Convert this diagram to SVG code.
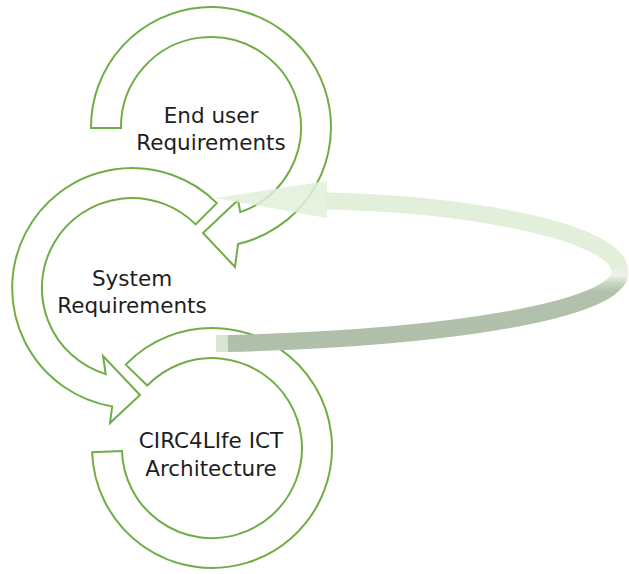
<svg xmlns="http://www.w3.org/2000/svg" width="629" height="574" viewBox="0 0 629 574">
  <style>
    .ring { fill: #ffffff; stroke: #70ad47; stroke-width: 2; stroke-linejoin: miter; }
    .label { font-family: "DejaVu Sans", "Liberation Sans", sans-serif; font-size: 21.5px; fill: #1e1e1e; text-anchor: middle; }
  </style>
  <defs>
    <linearGradient id="loopShade" gradientUnits="userSpaceOnUse" x1="0" y1="180" x2="0" y2="350">
      <stop offset="0" stop-color="#e2efda"/>
      <stop offset="0.5" stop-color="#e2efda"/>
      <stop offset="0.56" stop-color="#ecf4e8"/>
      <stop offset="0.61" stop-color="#c6d3c0"/>
      <stop offset="0.66" stop-color="#b2c1ac"/>
      <stop offset="1" stop-color="#b0bfaa"/>
    </linearGradient>
  </defs>

  <!-- Step 1: clockwise ring arrow -->
  <g id="end-user-requirements">
    <path class="ring" d="M 91,128 A 120 120 0 1 1 238,244 L 235,267 L 203,233 L 238,200 L 240.3,212.1 A 90 90 0 1 0 121,128 Z"/>
    <text class="label" x="211" y="123">End user</text>
    <text class="label" x="211" y="150">Requirements</text>
  </g>

  <!-- Step 2: counter-clockwise ring arrow -->
  <g id="system-requirements">
    <path class="ring" d="M 216.9,203.1 A 120 120 0 1 0 112.2,406.4 L 110,423 L 140,395 L 103,356 L 105.7,374.1 A 90 90 0 1 1 195.6,224.4 Z"/>
    <text class="label" x="132" y="286">System</text>
    <text class="label" x="132" y="313">Requirements</text>
  </g>

  <!-- Step 3: open ring without arrowhead -->
  <g id="ict-architecture">
    <path class="ring" d="M 92.1,452.2 A 120 120 0 1 0 125.7,364.6 L 147.3,385.5 A 90 90 0 1 1 122,451.1 Z"/>
    <text class="label" x="211" y="448">CIRC4LIfe ICT</text>
    <text class="label" x="211" y="476">Architecture</text>
  </g>

  <!-- Feedback loop from architecture back to end user requirements -->
  <g id="connectors">
    <rect x="216" y="335" width="13" height="17" fill="#d9e5d3"/>
    <path d="M 228,343.5 C 450,338 620,310 620,272 C 620,232 470,204 326,201" fill="none" stroke="url(#loopShade)" stroke-width="17"/>
    <polygon points="327,181 327,218 215,198" fill="#e2efda" fill-opacity="0.85"/>
  </g>
</svg>
